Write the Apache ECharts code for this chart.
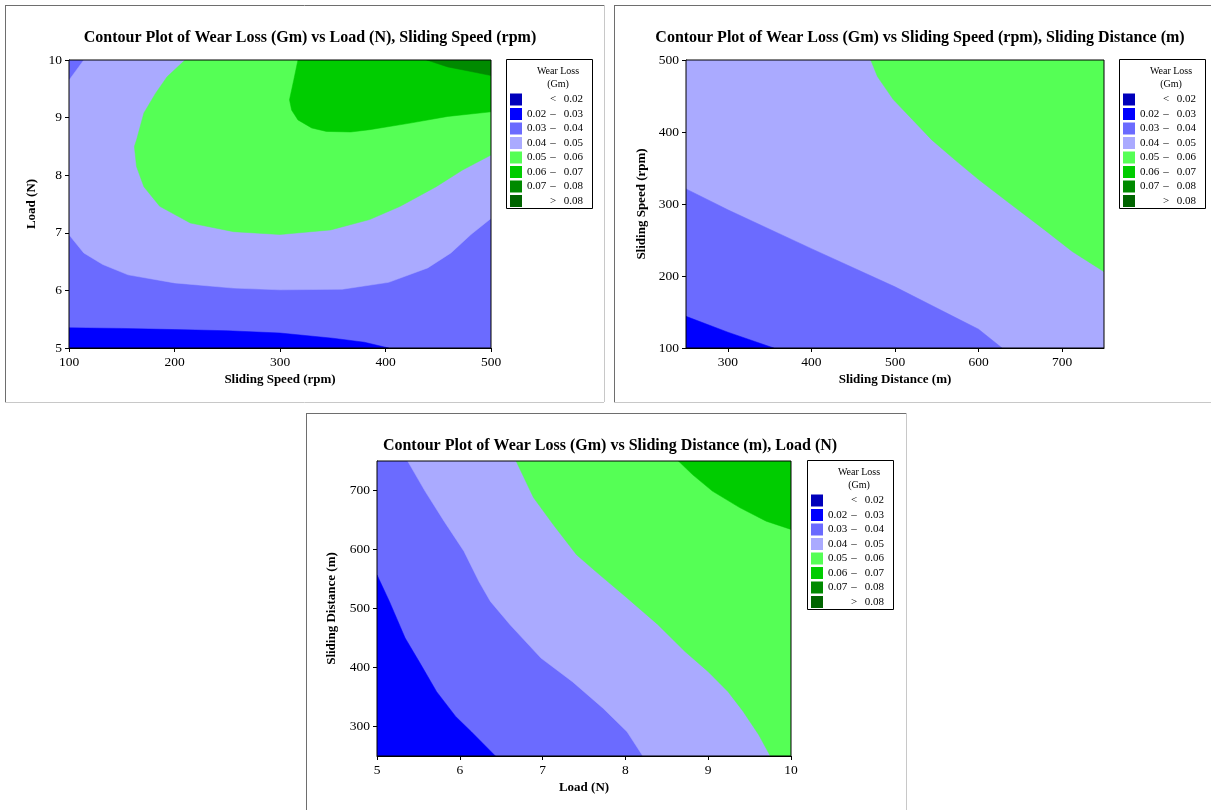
<!DOCTYPE html>
<html>
<head>
<meta charset="utf-8">
<script src="https://cdn.jsdelivr.net/npm/echarts@6/dist/echarts.min.js"></script>
<style>html,body{margin:0;padding:0;background:#fff;}#chart{width:1211px;height:810px;}</style>
</head>
<body>
<div id="chart"></div>
<script>
// ---------- data ----------
const titles = [
  'Contour Plot of Wear Loss (Gm) vs Load (N), Sliding Speed (rpm)',
  'Contour Plot of Wear Loss (Gm) vs Sliding Speed (rpm), Sliding Distance (m)',
  'Contour Plot of Wear Loss (Gm) vs Sliding Distance (m), Load (N)'
];
const xNames = ['Sliding Speed (rpm)', 'Sliding Distance (m)', 'Load (N)'];
const yNames = ['Load (N)', 'Sliding Speed (rpm)', 'Sliding Distance (m)'];
const legendTitle = ['Wear Loss', '(Gm)'];
const thresholds = [0.02, 0.03, 0.04, 0.05, 0.06, 0.07, 0.08];

const range1X = [100, 500], range1Y = [5, 10];
const range2X = [250, 750], range2Y = [100, 500];
const range3X = [5, 10],    range3Y = [250, 750];
const ticks1X = [100, 200, 300, 400, 500], ticks1Y = [5, 6, 7, 8, 9, 10];
const ticks2X = [300, 400, 500, 600, 700], ticks2Y = [100, 200, 300, 400, 500];
const ticks3X = [5, 6, 7, 8, 9, 10],       ticks3Y = [300, 400, 500, 600, 700];

// contour regions: each is the area at or above a level (level index into thresholds bands)
// Panel 1: Load (y) vs Sliding Speed (x)
const p1Band1 = [[100,5],[100,5.35],[150,5.34],[200,5.32],[250,5.30],[300,5.26],[350,5.17],[380,5.10],[403,5.0]];
const p1Band3 = [[100,6.965],[114,6.65],[132,6.45],[156,6.27],[200,6.13],[256,6.04],[300,6.01],[359,6.02],[403,6.14],[440,6.39],[462,6.65],[481,6.97],[500,7.25],[500,10],[114,10],[100,9.65]];
const p1Band4 = [[210,10],[193,9.71],[182,9.42],[171,9.08],[164,8.61],[162,8.5],[164,8.15],[171,7.80],[186,7.46],[215,7.17],[256,7.02],[300,6.97],[348,7.05],[385,7.23],[414,7.46],[448,7.80],[473,8.09],[500,8.35],[500,10]];
const p1Band5 = [[317,10],[313,9.65],[309,9.31],[311,9.13],[317,8.96],[330,8.82],[344,8.76],[367,8.75],[385,8.79],[422,8.90],[459,9.02],[500,9.10],[500,10]];
const p1Band6 = [[439,10],[459,9.88],[481,9.80],[500,9.73],[500,10]];
const p1BaseLevel = 2;
const p1Levels = [1, 3, 4, 5, 6];

// Panel 2: Sliding Speed (y) vs Sliding Distance (x)
const p2Band2 = [[250,100],[250,321],[300,292],[400,238],[500,185],[600,126],[628,100]];
const p2Band1 = [[250,100],[250,144],[300,122],[355,100]];
const p2Band4 = [[471,500],[479,477],[498,445],[521,417],[544,389],[572,361],[600,334],[637,301],[679,264],[712,234],[750,206],[750,500]];
const p2BaseLevel = 3;
const p2Levels = [2, 1, 4];

// Panel 3: Sliding Distance (y) vs Load (x)
const p3Band1 = [[5,250],[5,557],[5.15,512],[5.34,450],[5.53,405],[5.72,359],[5.95,317],[6.14,291],[6.43,250]];
const p3Band3 = [[5.37,750],[5.58,699],[5.81,648],[6.05,597],[6.23,546],[6.37,512],[6.61,472],[6.98,416],[7.36,376],[7.73,331],[8.02,291],[8.21,250],[10,250],[10,750]];
const p3Band4 = [[6.68,750],[6.89,688],[7.13,642],[7.41,591],[7.64,563],[8.02,518],[8.39,473],[8.72,427],[9.0,393],[9.24,359],[9.42,326],[9.61,286],[9.75,250],[10,250],[10,750]];
const p3Band5 = [[8.64,750],[8.81,727],[9.05,699],[9.38,671],[9.70,648],[10,634],[10,750]];
const p3BaseLevel = 2;
const p3Levels = [1, 3, 4, 5];

// ---------- styles ----------
const palette = ['#0000BB', '#0000FF', '#6B6BFF', '#AAAAFF', '#55FF55', '#00CC00', '#008A00', '#006400'];
const FONT = '"Liberation Serif", "Times New Roman", serif';

// ---------- helpers ----------
function rectOf(rx, ry) { return [[rx[0], ry[0]], [rx[1], ry[0]], [rx[1], ry[1]], [rx[0], ry[1]]]; }
function polySeries(idx, pts, level) {
  return {
    type: 'custom', xAxisIndex: idx, yAxisIndex: idx, silent: true, clip: true,
    data: pts,
    renderItem: function (params, api) {
      if (params.dataIndex !== 0) return null;
      return { type: 'polygon', shape: { points: pts.map(p => api.coord(p)) },
               style: { fill: palette[level], stroke: palette[level], lineWidth: 0.5 } };
    }
  };
}
function axisCfg(i, range, ticks, name, gap) {
  return {
    type: 'value', gridIndex: i, min: range[0], max: range[1],
    name: name, nameLocation: 'middle', nameGap: gap,
    nameTextStyle: { fontFamily: FONT, fontWeight: 'bold', fontSize: 13, color: '#000' },
    axisLine: { show: true, onZero: false, lineStyle: { color: '#000', width: 1 } },
    axisTick: { show: true, length: 4, customValues: ticks, lineStyle: { color: '#000' } },
    axisLabel: { customValues: ticks, fontFamily: FONT, fontSize: 13.5, color: '#000', margin: 7 },
    splitLine: { show: false }
  };
}
function legendGroup(x, y) {
  const ch = [];
  ch.push({ type: 'rect', shape: { x: 0.5, y: 0.5, width: 86, height: 149 },
            style: { fill: '#fff', stroke: '#000', lineWidth: 1 } });
  ch.push({ type: 'text', x: 52, y: 12, style: { text: legendTitle[0], font: '10px ' + FONT, fill: '#000', align: 'center', verticalAlign: 'middle' } });
  ch.push({ type: 'text', x: 52, y: 25.5, style: { text: legendTitle[1], font: '10px ' + FONT, fill: '#000', align: 'center', verticalAlign: 'middle' } });
  for (let i = 0; i < palette.length; i++) {
    const cy = 40.5 + i * 14.5;
    ch.push({ type: 'rect', shape: { x: 4, y: cy - 6, width: 12, height: 12 }, style: { fill: palette[i] } });
    let left = '', sym = '', right = '';
    if (i === 0) { sym = '<'; right = thresholds[0].toFixed(2); }
    else if (i === palette.length - 1) { sym = '>'; right = thresholds[thresholds.length - 1].toFixed(2); }
    else { left = thresholds[i - 1].toFixed(2); sym = '\u2013'; right = thresholds[i].toFixed(2); }
    if (left) ch.push({ type: 'text', x: 21, y: cy, style: { text: left, font: '11px ' + FONT, fill: '#000', align: 'left', verticalAlign: 'middle' } });
    ch.push({ type: 'text', x: 47, y: cy, style: { text: sym, font: '11px ' + FONT, fill: '#000', align: 'center', verticalAlign: 'middle' } });
    ch.push({ type: 'text', x: 77, y: cy, style: { text: right, font: '11px ' + FONT, fill: '#000', align: 'right', verticalAlign: 'middle' } });
  }
  return { type: 'group', x: x, y: y, children: ch, z: 10 };
}
function frame(x0, y0, x1, y1) {
  const dark = { stroke: '#6E6E6E', lineWidth: 1 }, light = { stroke: '#C8C8C8', lineWidth: 1 };
  return [
    { type: 'line', shape: { x1: x0, y1: y0 + 0.5, x2: x1, y2: y0 + 0.5 }, style: dark },
    { type: 'line', shape: { x1: x0 + 0.5, y1: y0, x2: x0 + 0.5, y2: y1 }, style: dark },
    { type: 'line', shape: { x1: x1 + 0.5, y1: y0, x2: x1 + 0.5, y2: y1 }, style: light },
    { type: 'line', shape: { x1: x0, y1: y1 + 0.5, x2: x1, y2: y1 + 0.5 }, style: light }
  ];
}

// ---------- option ----------
const series = [];
series.push(polySeries(0, rectOf(range1X, range1Y), p1BaseLevel));
[p1Band1, p1Band3, p1Band4, p1Band5, p1Band6].forEach((b, k) => series.push(polySeries(0, b, p1Levels[k])));
series.push(polySeries(1, rectOf(range2X, range2Y), p2BaseLevel));
[p2Band2, p2Band1, p2Band4].forEach((b, k) => series.push(polySeries(1, b, p2Levels[k])));
series.push(polySeries(2, rectOf(range3X, range3Y), p3BaseLevel));
[p3Band1, p3Band3, p3Band4, p3Band5].forEach((b, k) => series.push(polySeries(2, b, p3Levels[k])));

const titleStyle = { fontFamily: FONT, fontWeight: 'bold', fontSize: 16, color: '#000' };
const option = {
  animation: false,
  backgroundColor: '#fff',
  title: [
    { text: titles[0], left: 305, top: 25, textAlign: 'center', textStyle: titleStyle },
    { text: titles[1], left: 915, top: 25, textAlign: 'center', textStyle: titleStyle },
    { text: titles[2], left: 605, top: 433, textAlign: 'center', textStyle: titleStyle }
  ],
  grid: [
    { left: 69, top: 60, width: 422, height: 288, show: true, borderColor: '#000', borderWidth: 1, backgroundColor: 'transparent', z: 5 },
    { left: 686, top: 60, width: 418, height: 288, show: true, borderColor: '#000', borderWidth: 1, backgroundColor: 'transparent', z: 5 },
    { left: 377, top: 461, width: 414, height: 295, show: true, borderColor: '#000', borderWidth: 1, backgroundColor: 'transparent', z: 5 }
  ],
  xAxis: [
    axisCfg(0, range1X, ticks1X, xNames[0], 25),
    axisCfg(1, range2X, ticks2X, xNames[1], 25),
    axisCfg(2, range3X, ticks3X, xNames[2], 25)
  ],
  yAxis: [
    axisCfg(0, range1Y, ticks1Y, yNames[0], 31),
    axisCfg(1, range2Y, ticks2Y, yNames[1], 38),
    axisCfg(2, range3Y, ticks3Y, yNames[2], 39)
  ],
  series: series,
  graphic: [].concat(
    frame(5, 5, 604, 402),
    frame(614, 5, 1215, 402),
    frame(306, 413, 906, 815),
    [legendGroup(506, 59), legendGroup(1119, 59), legendGroup(807, 460)]
  )
};
const chart = echarts.init(document.getElementById('chart'), null, { renderer: 'canvas' });
chart.setOption(option);
</script>
</body>
</html>
